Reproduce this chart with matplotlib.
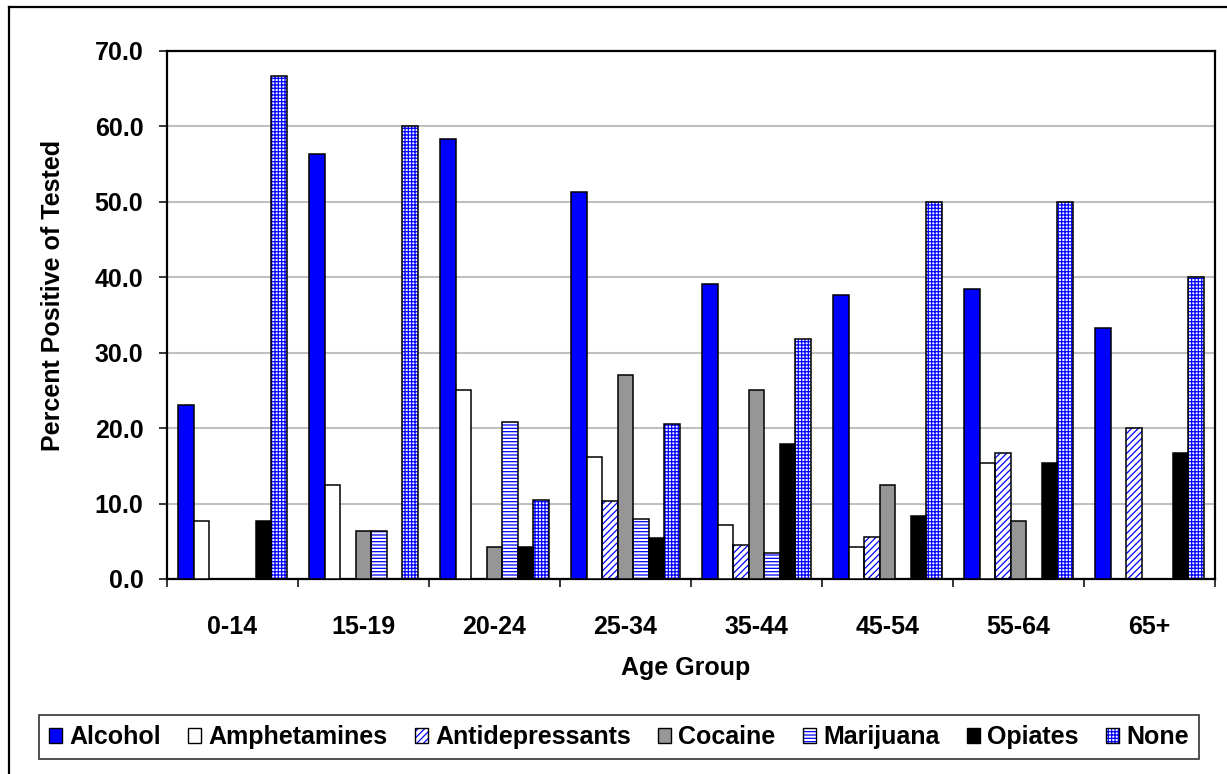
import numpy as np
import matplotlib.pyplot as plt
from matplotlib.patches import Patch
from matplotlib.lines import Line2D

plt.rcParams['font.family'] = ['Liberation Sans', 'DejaVu Sans']
plt.rcParams['font.weight'] = 'bold'
plt.rcParams['hatch.linewidth'] = 0.9

age_groups = ['0-14', '15-19', '20-24', '25-34', '35-44', '45-54', '55-64', '65+']
series_names = ['Alcohol', 'Amphetamines', 'Antidepressants', 'Cocaine',
                'Marijuana', 'Opiates', 'None']

alcohol = [23.1, 56.3, 58.3, 51.3, 39.1, 37.6, 38.5, 33.3]
amphetamines = [7.7, 12.5, 25.0, 16.2, 7.1, 4.2, 15.4, 0.0]
antidepressants = [0.0, 0.0, 0.0, 10.3, 4.5, 5.6, 16.7, 20.0]
cocaine = [0.0, 6.3, 4.2, 27.0, 25.0, 12.5, 7.7, 0.0]
marijuana = [0.0, 6.3, 20.8, 7.9, 3.4, 0.0, 0.0, 0.0]
opiates = [7.7, 0.0, 4.2, 5.4, 17.9, 8.3, 15.4, 16.7]
none = [66.7, 60.0, 10.5, 20.6, 31.8, 50.0, 50.0, 40.0]

series_values = [alcohol, amphetamines, antidepressants, cocaine,
                 marijuana, opiates, none]

BLUE = '#0000ff'
# (face colour, hatch) per series
looks = [
    (BLUE, None),
    ('white', None),
    ('white', '/////'),
    ('#969696', None),
    ('white', '-----'),
    ('black', None),
    ('white', '+++++'),
]

W, H = 1227, 774
fig = plt.figure(figsize=(W / 100, H / 100), dpi=100)
ax = fig.add_axes([167 / W, 1 - 579 / H, (1215 - 167) / W, (579 - 51) / H])

x = np.arange(len(age_groups)) + 0.5
w = 0.118
handles = []
for j, (name, vals) in enumerate(zip(series_names, series_values)):
    face, hatch = looks[j]
    pos = x + (j - 3) * w
    if hatch:
        ax.bar(pos, vals, w, color='white', edgecolor=BLUE, hatch=hatch,
               linewidth=0, zorder=2)
        ax.bar(pos, vals, w, fill=False, edgecolor='black', linewidth=1.1, zorder=3)
        handles.append((Patch(facecolor='white', edgecolor=BLUE, hatch=hatch, lw=0),
                        Patch(facecolor='none', edgecolor='black', lw=1.0)))
    else:
        ax.bar(pos, vals, w, color=face, edgecolor='black', linewidth=1.1, zorder=3)
        handles.append(Patch(facecolor=face, edgecolor='black', lw=1.0))

ax.set_xlim(0, len(age_groups))
ax.set_ylim(0, 70)
ax.set_yticks(np.arange(0, 71, 10))
ax.set_yticklabels([f'{v:.1f}' for v in np.arange(0, 71, 10)], fontsize=18)
ax.set_xticks(x)
ax.set_xticklabels(age_groups, fontsize=18)
ax.set_xticks(np.arange(0, len(age_groups) + 1), minor=True)
ax.tick_params(axis='x', which='major', length=0, pad=26)
ax.tick_params(axis='x', which='minor', length=6, width=1.1, direction='out')
ax.tick_params(axis='y', length=6, width=1.1, pad=11)

ax.yaxis.grid(True, color='#c0c0c0', linewidth=1.5, zorder=0)
ax.set_axisbelow(True)
for sp in ax.spines.values():
    sp.set_linewidth(1.6)
    sp.set_color('black')

ax.set_xlabel('Age Group', fontsize=18, fontweight='bold')
ax.set_ylabel('Percent Positive of Tested', fontsize=18, fontweight='bold')
ax.xaxis.set_label_coords(0.495, -0.146)
ax.yaxis.set_label_coords(-0.097, 0.537)

leg = fig.legend(handles, series_names, ncol=7, loc='center',
                 bbox_to_anchor=(39 / W, 1 - 761 / H, 1160 / W, 48 / H),
                 mode='expand', fontsize=18, frameon=True, fancybox=False,
                 handlelength=0.5, handleheight=0.55, handletextpad=0.3,
                 borderaxespad=0, borderpad=0.4, columnspacing=0.6)
leg.get_frame().set_edgecolor('black')
leg.get_frame().set_linewidth(1.2)

# outer chart border (left and top edges visible)
fig.add_artist(Line2D([9 / W, 9 / W], [0, 1 - 7 / H], color='black', lw=1.6,
                      transform=fig.transFigure))
fig.add_artist(Line2D([9 / W, 1], [1 - 7 / H, 1 - 7 / H], color='black', lw=1.6,
                      transform=fig.transFigure))

fig.savefig('out.png', dpi=100)
